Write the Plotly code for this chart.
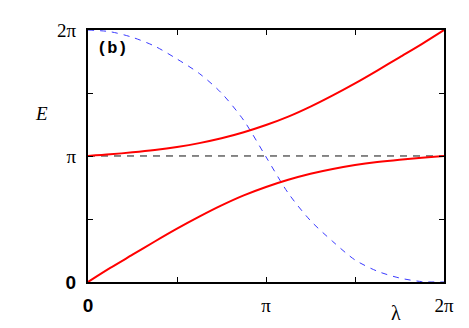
import numpy as np
import plotly.graph_objects as go

PI = np.pi

# lambda grid in steps of pi/8 and the curve values
lam = [k * PI / 8 for k in range(17)]
upper = [3.142, 3.183, 3.233, 3.293, 3.368, 3.463, 3.583, 3.733, 3.913,
         4.123, 4.373, 4.653, 4.953, 5.273, 5.603, 5.933, 6.283]
lower = [0.0, 0.35, 0.68, 1.01, 1.33, 1.63, 1.91, 2.16, 2.37,
         2.55, 2.70, 2.82, 2.915, 2.99, 3.05, 3.10, 3.142]
blue = [6.283, 6.24, 6.10, 5.88, 5.56, 5.20, 4.71, 4.03, 3.12,
        2.215, 1.53, 1.01, 0.55, 0.27, 0.10, 0.01, 0.0]
flat_x = [0.0, 6.283]
flat_y = [3.142, 3.142]

tick_vals = [0, PI / 2, PI, 3 * PI / 2, 2 * PI]
sans0 = "<span style='font-family:Liberation Sans'><b>0</b></span>"
tick_text = [sans0, "", "π", "", "2π"]

fig = go.Figure()
fig.add_trace(go.Scatter(x=flat_x, y=flat_y, mode='lines',
                         line=dict(color='#111111', width=1, dash='7px,6px')))
fig.add_trace(go.Scatter(x=lam, y=blue, mode='lines', line_shape='spline',
                         line=dict(color='#3a3aff', width=1, dash='6px,6px', smoothing=0.8)))
fig.add_trace(go.Scatter(x=lam, y=upper, mode='lines', line_shape='spline',
                         line=dict(color='#ff0000', width=2, smoothing=0.8)))
fig.add_trace(go.Scatter(x=lam, y=lower, mode='lines', line_shape='spline',
                         line=dict(color='#ff0000', width=2, smoothing=0.8)))

axis = dict(range=[0, 2 * PI], tickvals=tick_vals, ticktext=tick_text,
            ticks='inside', ticklen=5, tickwidth=1, tickcolor='black',
            showline=True, linecolor='black', linewidth=2, mirror='ticks',
            showgrid=False, zeroline=False,
            tickfont=dict(family='Liberation Serif', size=19, color='black'))

# page body has an 8px margin, so the figure is a bit smaller than the window
fig.update_layout(
    width=461, height=320,
    margin=dict(l=80, r=25, t=17, b=42),
    plot_bgcolor='white', paper_bgcolor='white',
    showlegend=False,
    xaxis=dict(axis, ticklabelstandoff=5), yaxis=dict(axis, ticklabelstandoff=6),
    annotations=[
        dict(text='<b>(b)</b>', x=0.02, y=0.925, xref='paper', yref='paper',
             xanchor='left', yanchor='middle', showarrow=False,
             font=dict(family='Liberation Mono', size=17, color='black')),
        dict(text='<i>E</i>', x=-0.13, y=0.667, xref='paper', yref='paper',
             xanchor='center', yanchor='middle', showarrow=False,
             font=dict(family='Liberation Serif', size=19, color='black')),
        dict(text='λ', x=0.865, y=-0.123, xref='paper', yref='paper',
             xanchor='center', yanchor='middle', showarrow=False,
             font=dict(family='Liberation Serif', size=20, color='black')),
    ],
)

fig.write_html("out.html")
